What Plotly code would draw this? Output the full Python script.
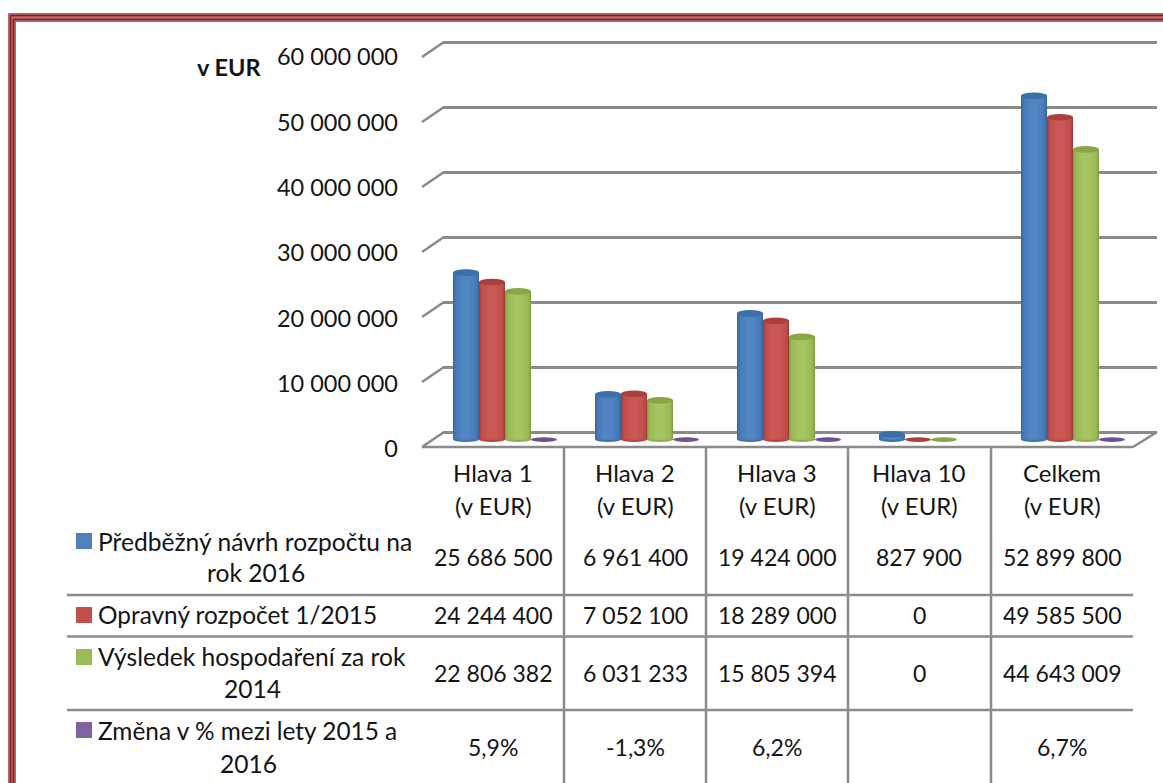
import plotly.graph_objects as go

W, H = 1163, 783

categories = ["Hlava 1", "Hlava 2", "Hlava 3", "Hlava 10", "Celkem"]
category_unit = "(v EUR)"
navrh_2016 = [25686500, 6961400, 19424000, 827900, 52899800]
opravny_2015 = [24244400, 7052100, 18289000, 0, 49585500]
vysledek_2014 = [22806382, 6031233, 15805394, 0, 44643009]
zmena_pct = [5.9, -1.3, 6.2, None, 6.7]
tick_values = [0, 10000000, 20000000, 30000000, 40000000, 50000000, 60000000]
tick_labels = ["0", "10 000 000", "20 000 000", "30 000 000", "40 000 000", "50 000 000", "60 000 000"]
series_lines = [
    ["Předběžný návrh rozpočtu na", "rok 2016"],
    ["Opravný rozpočet 1/2015"],
    ["Výsledek hospodaření za rok", "2014"],
    ["Změna v % mezi lety 2015 a", "2016"],
]


def px(x):
    return x / W


def py(y):
    return 1 - y / H


def eur(v):
    return f"{v:,}".replace(",", " ")


def pct(v):
    return "" if v is None else f"{v:.1f}%".replace(".", ",")


TXT = "#141414"
FONT = "Lato, Carlito, Calibri, sans-serif"
GRID = "#8a8a8a"
WIDTHS = [1.0, 0.94, 0.84, 0.68, 0.4]
PALETTES = [
    ["#36679d", "#3f72ad", "#4678b4", "#4b7fbd", "#5084c2"],
    ["#a33a38", "#b34644", "#bd4d4a", "#c4524f", "#ca5754"],
    ["#7f9f40", "#8ead4c", "#98b755", "#9fbe5a", "#a5c35e"],
    ["#5f4580", "#75559a", "#7d5ca3", "#8060a7", "#8462ab"],
]
CAPS = ["#3c6ea8", "#ab3f3d", "#88a648", "#6f5092"]
SWATCH = ["#4f81bd", "#c0504d", "#9bbb59", "#8064a2"]

fig = go.Figure()

fig.add_trace(go.Scatter(x=[None], y=[None], xaxis="x", yaxis="y", showlegend=False, hoverinfo="skip"))
fig.add_trace(go.Scatter(x=[None], y=[None], xaxis="x3", yaxis="y3", showlegend=False, hoverinfo="skip"))

BAR_W = 26 / 142
values = [navrh_2016, opravny_2015, vysledek_2014, [None if v is None else v / 100 for v in zmena_pct]]
names = [" ".join(l) for l in series_lines]
shapes = []
RY = 3.3 / 6.5e-6
RB = 2.4 / 6.5e-6
for s, vals in enumerate(values):
    left = -2 * BAR_W + s * BAR_W
    for wf, col in zip(WIDTHS, PALETTES[s]):
        w = BAR_W * wf
        fig.add_trace(go.Bar(
            x=list(range(len(categories))), y=vals, xaxis="x2", yaxis="y2",
            width=w, offset=left + (BAR_W - w) / 2,
            marker=dict(color=col, line=dict(width=0)),
            name=names[s], showlegend=False, hoverinfo="skip",
        ))
    for i, v in enumerate(vals):
        if v is None:
            continue
        x0, x1 = i + left, i + left + BAR_W
        shapes.append(dict(type="circle", xref="x2", yref="y2", x0=x0, x1=x1, y0=-RB, y1=RB,
                           fillcolor=PALETTES[s][1] if v > 1 else CAPS[s], line=dict(width=0), layer="below"))
        if v > 1:
            shapes.append(dict(type="circle", xref="x2", yref="y2", x0=x0, x1=x1, y0=v - RY, y1=v + RY,
                               fillcolor=CAPS[s], line=dict(width=0), layer="above"))


def pline(x0, y0, x1, y1, color=GRID, width=2.5):
    shapes.append(dict(type="line", xref="paper", yref="paper", x0=px(x0), y0=py(y0), x1=px(x1), y1=py(y1),
                       line=dict(color=color, width=width), layer="above"))


for t in tick_values:
    d = 65 * t / 1e7
    pline(422, 447 - d, 444, 432 - d)
pline(422, 447, 1133, 447)
pline(1133, 447, 1157, 432)

for y in (595, 636.5, 710):
    pline(67, y, 1133, y)
for x in (564, 706, 848, 991):
    pline(x, 447, x, 783)

for (x0, y0, x1, y1, c, w) in [
    (12, 17.5, 1163, 17.5, "#b8686c", 9), (12, 13, 12, 783, "#b8686c", 8),
    (10.5, 15.5, 1163, 15.5, "#8b1a1e", 1.5), (10.5, 15.5, 10.5, 783, "#8b1a1e", 1.5),
    (13.5, 19.5, 1163, 19.5, "#8b1a1e", 1.5), (13.5, 19.5, 13.5, 783, "#8b1a1e", 1.5),
]:
    pline(x0, y0, x1, y1, c, w)

for (y, c) in zip((541, 615, 657, 730), SWATCH):
    shapes.append(dict(type="rect", xref="paper", yref="paper", x0=px(76), x1=px(92), y0=py(y - 8), y1=py(y + 8),
                       fillcolor=c, line=dict(width=0), layer="above"))

annotations = []


def text(x, y, s, size=23, anchor="center", bold=False):
    annotations.append(dict(xref="paper", yref="paper", x=px(x), y=py(y), text=f"<b>{s}</b>" if bold else s,
                            showarrow=False, xanchor=anchor, yanchor="middle",
                            font=dict(family=FONT, size=size, color=TXT)))


centers = [493, 635, 777, 919, 1062]
for cx, c in zip(centers, categories):
    text(cx, 472, c, size=24)
    text(cx, 505, category_unit, size=24)
for cx, a, b, c, d in zip(centers, navrh_2016, opravny_2015, vysledek_2014, zmena_pct):
    text(cx, 557, eur(a))
    text(cx, 615, eur(b))
    text(cx, 673, eur(c))
    if d is not None:
        text(cx, 747, pct(d))

text(96, 541, series_lines[0][0], size=24.6, anchor="left")
text(256, 572, series_lines[0][1], size=24.6)
text(96, 614, series_lines[1][0], size=24.4, anchor="left")
text(96, 656, series_lines[2][0], size=24.6, anchor="left")
text(252, 688, series_lines[2][1], size=24.6)
text(96, 730, series_lines[3][0], size=24.4, anchor="left")
text(248, 763, series_lines[3][1], size=24.6)
text(229, 67, "v EUR", size=23.5, bold=True)

hidden = dict(visible=False, fixedrange=True)
BASE = 439.6
fig.update_layout(
    width=W, height=H, margin=dict(l=0, r=0, t=0, b=0, pad=0, autoexpand=False),
    paper_bgcolor="white", plot_bgcolor="rgba(0,0,0,0)",
    barmode="overlay", showlegend=False, shapes=shapes, annotations=annotations,
    xaxis=dict(domain=[px(443), px(1157)], range=[0, 1], **hidden),
    yaxis=dict(domain=[py(432 + 6.5), py(42 - 6.5)], range=[-1000000, 61000000], anchor="x", tickvals=tick_values,
               showgrid=True, gridcolor=GRID, gridwidth=2.5, zeroline=True, zerolinecolor=GRID, zerolinewidth=2.5,
               showticklabels=False, ticks="", showline=False, fixedrange=True),
    xaxis2=dict(domain=[px(434), px(1144)], range=[-0.5, 4.5], anchor="y2", **hidden),
    yaxis2=dict(domain=[py(BASE + 1.5e6 * 6.5e-6), py(BASE - 61e6 * 6.5e-6)], range=[-1500000, 61000000], anchor="x2", **hidden),
    xaxis3=dict(domain=[px(399), px(400)], range=[0, 1], anchor="y3", **hidden),
    yaxis3=dict(domain=[py(449), py(57)], range=[0, 60000000], anchor="x3", tickvals=tick_values, ticktext=tick_labels,
                showgrid=False, zeroline=False, showline=False, ticks="", fixedrange=True,
                tickfont=dict(family=FONT, size=23.5, color=TXT)),
)
fig.write_html("out.html", config=dict(displayModeBar=False), post_script="document.body.style.margin='0';")
